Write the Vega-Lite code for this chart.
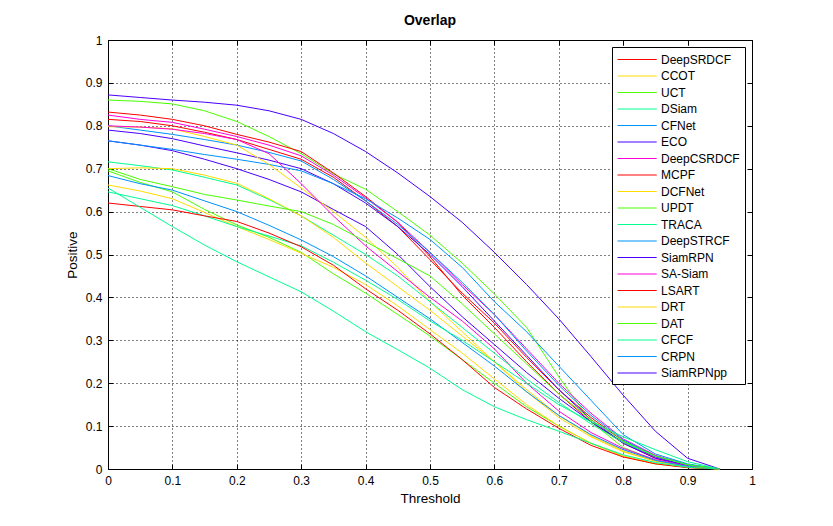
{
  "$schema": "https://vega.github.io/schema/vega-lite/v6.json",
  "width": 644,
  "height": 429,
  "autosize": "none",
  "padding": {"left": 108, "top": 40, "right": 81, "bottom": 57},
  "background": "white",
  "title": {
    "text": "Overlap",
    "font": "Liberation Sans",
    "fontSize": 14,
    "fontWeight": "bold",
    "color": "black",
    "offset": 6
  },
  "config": {
    "view": {"stroke": "black", "strokeWidth": 1},
    "axis": {
      "labelFont": "Liberation Sans",
      "labelFontSize": 12,
      "labelColor": "black",
      "labelFlush": false,
      "titleFont": "Liberation Sans",
      "titleFontSize": 13.5,
      "titleFontWeight": "normal",
      "titleColor": "black",
      "tickColor": "black",
      "tickSize": -5,
      "domain": false,
      "gridColor": "black",
      "gridDash": [1, 3],
      "gridOpacity": 1,
      "gridWidth": 1
    },
    "legend": {
      "orient": "top-right",
      "offset": 7,
      "fillColor": "white",
      "strokeColor": "black",
      "padding": 5,
      "symbolType": "M-2.8,0H2.8",
      "symbolSize": 196,
      "symbolStrokeWidth": 1,
      "symbolOffset": 12.6,
      "labelOffset": 16.4,
      "labelFont": "Liberation Sans",
      "labelFontSize": 12,
      "labelColor": "black",
      "labelLimit": 0,
      "rowPadding": 2.5
    }
  },
  "data": {
    "values": [
      {"tracker":"SiamRPNpp","threshold":0,"positive":0.872},{"tracker":"SiamRPNpp","threshold":0.05,"positive":0.866},{"tracker":"SiamRPNpp","threshold":0.1,"positive":0.86},{"tracker":"SiamRPNpp","threshold":0.15,"positive":0.855},{"tracker":"SiamRPNpp","threshold":0.2,"positive":0.848},{"tracker":"SiamRPNpp","threshold":0.25,"positive":0.835},{"tracker":"SiamRPNpp","threshold":0.3,"positive":0.815},{"tracker":"SiamRPNpp","threshold":0.35,"positive":0.782},{"tracker":"SiamRPNpp","threshold":0.4,"positive":0.74},{"tracker":"SiamRPNpp","threshold":0.45,"positive":0.69},{"tracker":"SiamRPNpp","threshold":0.5,"positive":0.635},{"tracker":"SiamRPNpp","threshold":0.55,"positive":0.575},{"tracker":"SiamRPNpp","threshold":0.6,"positive":0.505},{"tracker":"SiamRPNpp","threshold":0.65,"positive":0.43},{"tracker":"SiamRPNpp","threshold":0.7,"positive":0.35},{"tracker":"SiamRPNpp","threshold":0.75,"positive":0.262},{"tracker":"SiamRPNpp","threshold":0.8,"positive":0.172},{"tracker":"SiamRPNpp","threshold":0.85,"positive":0.088},{"tracker":"SiamRPNpp","threshold":0.9,"positive":0.025},{"tracker":"SiamRPNpp","threshold":0.95,"positive":0},
      {"tracker":"UPDT","threshold":0,"positive":0.86},{"tracker":"UPDT","threshold":0.05,"positive":0.857},{"tracker":"UPDT","threshold":0.1,"positive":0.851},{"tracker":"UPDT","threshold":0.15,"positive":0.835},{"tracker":"UPDT","threshold":0.2,"positive":0.81},{"tracker":"UPDT","threshold":0.25,"positive":0.775},{"tracker":"UPDT","threshold":0.3,"positive":0.735},{"tracker":"UPDT","threshold":0.35,"positive":0.688},{"tracker":"UPDT","threshold":0.4,"positive":0.652},{"tracker":"UPDT","threshold":0.45,"positive":0.6},{"tracker":"UPDT","threshold":0.5,"positive":0.545},{"tracker":"UPDT","threshold":0.55,"positive":0.48},{"tracker":"UPDT","threshold":0.6,"positive":0.408},{"tracker":"UPDT","threshold":0.65,"positive":0.33},{"tracker":"UPDT","threshold":0.7,"positive":0.215},{"tracker":"UPDT","threshold":0.75,"positive":0.11},{"tracker":"UPDT","threshold":0.8,"positive":0.05},{"tracker":"UPDT","threshold":0.85,"positive":0.02},{"tracker":"UPDT","threshold":0.9,"positive":0.006},{"tracker":"UPDT","threshold":0.95,"positive":0},
      {"tracker":"LSART","threshold":0,"positive":0.832},{"tracker":"LSART","threshold":0.05,"positive":0.825},{"tracker":"LSART","threshold":0.1,"positive":0.815},{"tracker":"LSART","threshold":0.15,"positive":0.8},{"tracker":"LSART","threshold":0.2,"positive":0.78},{"tracker":"LSART","threshold":0.25,"positive":0.762},{"tracker":"LSART","threshold":0.3,"positive":0.74},{"tracker":"LSART","threshold":0.35,"positive":0.69},{"tracker":"LSART","threshold":0.4,"positive":0.635},{"tracker":"LSART","threshold":0.45,"positive":0.575},{"tracker":"LSART","threshold":0.5,"positive":0.495},{"tracker":"LSART","threshold":0.55,"positive":0.405},{"tracker":"LSART","threshold":0.6,"positive":0.33},{"tracker":"LSART","threshold":0.65,"positive":0.25},{"tracker":"LSART","threshold":0.7,"positive":0.175},{"tracker":"LSART","threshold":0.75,"positive":0.11},{"tracker":"LSART","threshold":0.8,"positive":0.06},{"tracker":"LSART","threshold":0.85,"positive":0.025},{"tracker":"LSART","threshold":0.9,"positive":0.008},{"tracker":"LSART","threshold":0.95,"positive":0},
      {"tracker":"DeepSRDCF","threshold":0,"positive":0.815},{"tracker":"DeepSRDCF","threshold":0.05,"positive":0.81},{"tracker":"DeepSRDCF","threshold":0.1,"positive":0.8},{"tracker":"DeepSRDCF","threshold":0.15,"positive":0.785},{"tracker":"DeepSRDCF","threshold":0.2,"positive":0.768},{"tracker":"DeepSRDCF","threshold":0.25,"positive":0.745},{"tracker":"DeepSRDCF","threshold":0.3,"positive":0.722},{"tracker":"DeepSRDCF","threshold":0.35,"positive":0.68},{"tracker":"DeepSRDCF","threshold":0.4,"positive":0.625},{"tracker":"DeepSRDCF","threshold":0.45,"positive":0.565},{"tracker":"DeepSRDCF","threshold":0.5,"positive":0.488},{"tracker":"DeepSRDCF","threshold":0.55,"positive":0.41},{"tracker":"DeepSRDCF","threshold":0.6,"positive":0.34},{"tracker":"DeepSRDCF","threshold":0.65,"positive":0.26},{"tracker":"DeepSRDCF","threshold":0.7,"positive":0.185},{"tracker":"DeepSRDCF","threshold":0.75,"positive":0.12},{"tracker":"DeepSRDCF","threshold":0.8,"positive":0.065},{"tracker":"DeepSRDCF","threshold":0.85,"positive":0.03},{"tracker":"DeepSRDCF","threshold":0.9,"positive":0.01},{"tracker":"DeepSRDCF","threshold":0.95,"positive":0},
      {"tracker":"SA-Siam","threshold":0,"positive":0.825},{"tracker":"SA-Siam","threshold":0.05,"positive":0.815},{"tracker":"SA-Siam","threshold":0.1,"positive":0.808},{"tracker":"SA-Siam","threshold":0.15,"positive":0.792},{"tracker":"SA-Siam","threshold":0.2,"positive":0.775},{"tracker":"SA-Siam","threshold":0.25,"positive":0.755},{"tracker":"SA-Siam","threshold":0.3,"positive":0.73},{"tracker":"SA-Siam","threshold":0.35,"positive":0.685},{"tracker":"SA-Siam","threshold":0.4,"positive":0.632},{"tracker":"SA-Siam","threshold":0.45,"positive":0.575},{"tracker":"SA-Siam","threshold":0.5,"positive":0.505},{"tracker":"SA-Siam","threshold":0.55,"positive":0.43},{"tracker":"SA-Siam","threshold":0.6,"positive":0.36},{"tracker":"SA-Siam","threshold":0.65,"positive":0.28},{"tracker":"SA-Siam","threshold":0.7,"positive":0.2},{"tracker":"SA-Siam","threshold":0.75,"positive":0.13},{"tracker":"SA-Siam","threshold":0.8,"positive":0.07},{"tracker":"SA-Siam","threshold":0.85,"positive":0.032},{"tracker":"SA-Siam","threshold":0.9,"positive":0.01},{"tracker":"SA-Siam","threshold":0.95,"positive":0},
      {"tracker":"DeepSTRCF","threshold":0,"positive":0.8},{"tracker":"DeepSTRCF","threshold":0.05,"positive":0.79},{"tracker":"DeepSTRCF","threshold":0.1,"positive":0.78},{"tracker":"DeepSTRCF","threshold":0.15,"positive":0.768},{"tracker":"DeepSTRCF","threshold":0.2,"positive":0.755},{"tracker":"DeepSTRCF","threshold":0.25,"positive":0.738},{"tracker":"DeepSTRCF","threshold":0.3,"positive":0.718},{"tracker":"DeepSTRCF","threshold":0.35,"positive":0.675},{"tracker":"DeepSTRCF","threshold":0.4,"positive":0.625},{"tracker":"DeepSTRCF","threshold":0.45,"positive":0.57},{"tracker":"DeepSTRCF","threshold":0.5,"positive":0.505},{"tracker":"DeepSTRCF","threshold":0.55,"positive":0.435},{"tracker":"DeepSTRCF","threshold":0.6,"positive":0.36},{"tracker":"DeepSTRCF","threshold":0.65,"positive":0.275},{"tracker":"DeepSTRCF","threshold":0.7,"positive":0.195},{"tracker":"DeepSTRCF","threshold":0.75,"positive":0.125},{"tracker":"DeepSTRCF","threshold":0.8,"positive":0.068},{"tracker":"DeepSTRCF","threshold":0.85,"positive":0.03},{"tracker":"DeepSTRCF","threshold":0.9,"positive":0.01},{"tracker":"DeepSTRCF","threshold":0.95,"positive":0},
      {"tracker":"ECO","threshold":0,"positive":0.79},{"tracker":"ECO","threshold":0.05,"positive":0.782},{"tracker":"ECO","threshold":0.1,"positive":0.77},{"tracker":"ECO","threshold":0.15,"positive":0.753},{"tracker":"ECO","threshold":0.2,"positive":0.737},{"tracker":"ECO","threshold":0.25,"positive":0.72},{"tracker":"ECO","threshold":0.3,"positive":0.7},{"tracker":"ECO","threshold":0.35,"positive":0.665},{"tracker":"ECO","threshold":0.4,"positive":0.62},{"tracker":"ECO","threshold":0.45,"positive":0.565},{"tracker":"ECO","threshold":0.5,"positive":0.5},{"tracker":"ECO","threshold":0.55,"positive":0.425},{"tracker":"ECO","threshold":0.6,"positive":0.345},{"tracker":"ECO","threshold":0.65,"positive":0.265},{"tracker":"ECO","threshold":0.7,"positive":0.185},{"tracker":"ECO","threshold":0.75,"positive":0.115},{"tracker":"ECO","threshold":0.8,"positive":0.06},{"tracker":"ECO","threshold":0.85,"positive":0.025},{"tracker":"ECO","threshold":0.9,"positive":0.008},{"tracker":"ECO","threshold":0.95,"positive":0},
      {"tracker":"SiamRPN","threshold":0,"positive":0.765},{"tracker":"SiamRPN","threshold":0.05,"positive":0.755},{"tracker":"SiamRPN","threshold":0.1,"positive":0.742},{"tracker":"SiamRPN","threshold":0.15,"positive":0.722},{"tracker":"SiamRPN","threshold":0.2,"positive":0.7},{"tracker":"SiamRPN","threshold":0.25,"positive":0.675},{"tracker":"SiamRPN","threshold":0.3,"positive":0.646},{"tracker":"SiamRPN","threshold":0.35,"positive":0.605},{"tracker":"SiamRPN","threshold":0.4,"positive":0.565},{"tracker":"SiamRPN","threshold":0.45,"positive":0.5},{"tracker":"SiamRPN","threshold":0.5,"positive":0.425},{"tracker":"SiamRPN","threshold":0.55,"positive":0.355},{"tracker":"SiamRPN","threshold":0.6,"positive":0.29},{"tracker":"SiamRPN","threshold":0.65,"positive":0.225},{"tracker":"SiamRPN","threshold":0.7,"positive":0.165},{"tracker":"SiamRPN","threshold":0.75,"positive":0.11},{"tracker":"SiamRPN","threshold":0.8,"positive":0.062},{"tracker":"SiamRPN","threshold":0.85,"positive":0.028},{"tracker":"SiamRPN","threshold":0.9,"positive":0.008},{"tracker":"SiamRPN","threshold":0.95,"positive":0},
      {"tracker":"CRPN","threshold":0,"positive":0.765},{"tracker":"CRPN","threshold":0.05,"positive":0.755},{"tracker":"CRPN","threshold":0.1,"positive":0.745},{"tracker":"CRPN","threshold":0.15,"positive":0.733},{"tracker":"CRPN","threshold":0.2,"positive":0.722},{"tracker":"CRPN","threshold":0.25,"positive":0.71},{"tracker":"CRPN","threshold":0.3,"positive":0.695},{"tracker":"CRPN","threshold":0.35,"positive":0.665},{"tracker":"CRPN","threshold":0.4,"positive":0.63},{"tracker":"CRPN","threshold":0.45,"positive":0.585},{"tracker":"CRPN","threshold":0.5,"positive":0.535},{"tracker":"CRPN","threshold":0.55,"positive":0.47},{"tracker":"CRPN","threshold":0.6,"positive":0.39},{"tracker":"CRPN","threshold":0.65,"positive":0.32},{"tracker":"CRPN","threshold":0.7,"positive":0.24},{"tracker":"CRPN","threshold":0.75,"positive":0.16},{"tracker":"CRPN","threshold":0.8,"positive":0.08},{"tracker":"CRPN","threshold":0.85,"positive":0.035},{"tracker":"CRPN","threshold":0.9,"positive":0.012},{"tracker":"CRPN","threshold":0.95,"positive":0},
      {"tracker":"CCOT","threshold":0,"positive":0.798},{"tracker":"CCOT","threshold":0.05,"positive":0.797},{"tracker":"CCOT","threshold":0.1,"positive":0.793},{"tracker":"CCOT","threshold":0.15,"positive":0.775},{"tracker":"CCOT","threshold":0.2,"positive":0.755},{"tracker":"CCOT","threshold":0.25,"positive":0.71},{"tracker":"CCOT","threshold":0.3,"positive":0.655},{"tracker":"CCOT","threshold":0.35,"positive":0.6},{"tracker":"CCOT","threshold":0.4,"positive":0.54},{"tracker":"CCOT","threshold":0.45,"positive":0.47},{"tracker":"CCOT","threshold":0.5,"positive":0.39},{"tracker":"CCOT","threshold":0.55,"positive":0.32},{"tracker":"CCOT","threshold":0.6,"positive":0.25},{"tracker":"CCOT","threshold":0.65,"positive":0.18},{"tracker":"CCOT","threshold":0.7,"positive":0.12},{"tracker":"CCOT","threshold":0.75,"positive":0.075},{"tracker":"CCOT","threshold":0.8,"positive":0.04},{"tracker":"CCOT","threshold":0.85,"positive":0.018},{"tracker":"CCOT","threshold":0.9,"positive":0.005},{"tracker":"CCOT","threshold":0.95,"positive":0},
      {"tracker":"DeepCSRDCF","threshold":0,"positive":0.8},{"tracker":"DeepCSRDCF","threshold":0.05,"positive":0.797},{"tracker":"DeepCSRDCF","threshold":0.1,"positive":0.792},{"tracker":"DeepCSRDCF","threshold":0.15,"positive":0.782},{"tracker":"DeepCSRDCF","threshold":0.2,"positive":0.768},{"tracker":"DeepCSRDCF","threshold":0.25,"positive":0.735},{"tracker":"DeepCSRDCF","threshold":0.3,"positive":0.665},{"tracker":"DeepCSRDCF","threshold":0.35,"positive":0.59},{"tracker":"DeepCSRDCF","threshold":0.4,"positive":0.52},{"tracker":"DeepCSRDCF","threshold":0.45,"positive":0.46},{"tracker":"DeepCSRDCF","threshold":0.5,"positive":0.4},{"tracker":"DeepCSRDCF","threshold":0.55,"positive":0.345},{"tracker":"DeepCSRDCF","threshold":0.6,"positive":0.28},{"tracker":"DeepCSRDCF","threshold":0.65,"positive":0.2},{"tracker":"DeepCSRDCF","threshold":0.7,"positive":0.135},{"tracker":"DeepCSRDCF","threshold":0.75,"positive":0.085},{"tracker":"DeepCSRDCF","threshold":0.8,"positive":0.048},{"tracker":"DeepCSRDCF","threshold":0.85,"positive":0.022},{"tracker":"DeepCSRDCF","threshold":0.9,"positive":0.007},{"tracker":"DeepCSRDCF","threshold":0.95,"positive":0},
      {"tracker":"DSiam","threshold":0,"positive":0.716},{"tracker":"DSiam","threshold":0.05,"positive":0.707},{"tracker":"DSiam","threshold":0.1,"positive":0.697},{"tracker":"DSiam","threshold":0.15,"positive":0.68},{"tracker":"DSiam","threshold":0.2,"positive":0.662},{"tracker":"DSiam","threshold":0.25,"positive":0.628},{"tracker":"DSiam","threshold":0.3,"positive":0.59},{"tracker":"DSiam","threshold":0.35,"positive":0.545},{"tracker":"DSiam","threshold":0.4,"positive":0.5},{"tracker":"DSiam","threshold":0.45,"positive":0.45},{"tracker":"DSiam","threshold":0.5,"positive":0.39},{"tracker":"DSiam","threshold":0.55,"positive":0.33},{"tracker":"DSiam","threshold":0.6,"positive":0.27},{"tracker":"DSiam","threshold":0.65,"positive":0.21},{"tracker":"DSiam","threshold":0.7,"positive":0.155},{"tracker":"DSiam","threshold":0.75,"positive":0.105},{"tracker":"DSiam","threshold":0.8,"positive":0.062},{"tracker":"DSiam","threshold":0.85,"positive":0.03},{"tracker":"DSiam","threshold":0.9,"positive":0.01},{"tracker":"DSiam","threshold":0.95,"positive":0},
      {"tracker":"DRT","threshold":0,"positive":0.7},{"tracker":"DRT","threshold":0.05,"positive":0.702},{"tracker":"DRT","threshold":0.1,"positive":0.7},{"tracker":"DRT","threshold":0.15,"positive":0.685},{"tracker":"DRT","threshold":0.2,"positive":0.666},{"tracker":"DRT","threshold":0.25,"positive":0.63},{"tracker":"DRT","threshold":0.3,"positive":0.59},{"tracker":"DRT","threshold":0.35,"positive":0.54},{"tracker":"DRT","threshold":0.4,"positive":0.48},{"tracker":"DRT","threshold":0.45,"positive":0.425},{"tracker":"DRT","threshold":0.5,"positive":0.37},{"tracker":"DRT","threshold":0.55,"positive":0.31},{"tracker":"DRT","threshold":0.6,"positive":0.25},{"tracker":"DRT","threshold":0.65,"positive":0.185},{"tracker":"DRT","threshold":0.7,"positive":0.125},{"tracker":"DRT","threshold":0.75,"positive":0.078},{"tracker":"DRT","threshold":0.8,"positive":0.042},{"tracker":"DRT","threshold":0.85,"positive":0.018},{"tracker":"DRT","threshold":0.9,"positive":0.005},{"tracker":"DRT","threshold":0.95,"positive":0},
      {"tracker":"DAT","threshold":0,"positive":0.7},{"tracker":"DAT","threshold":0.05,"positive":0.675},{"tracker":"DAT","threshold":0.1,"positive":0.658},{"tracker":"DAT","threshold":0.15,"positive":0.64},{"tracker":"DAT","threshold":0.2,"positive":0.627},{"tracker":"DAT","threshold":0.25,"positive":0.613},{"tracker":"DAT","threshold":0.3,"positive":0.6},{"tracker":"DAT","threshold":0.35,"positive":0.57},{"tracker":"DAT","threshold":0.4,"positive":0.53},{"tracker":"DAT","threshold":0.45,"positive":0.49},{"tracker":"DAT","threshold":0.5,"positive":0.45},{"tracker":"DAT","threshold":0.55,"positive":0.385},{"tracker":"DAT","threshold":0.6,"positive":0.315},{"tracker":"DAT","threshold":0.65,"positive":0.245},{"tracker":"DAT","threshold":0.7,"positive":0.175},{"tracker":"DAT","threshold":0.75,"positive":0.115},{"tracker":"DAT","threshold":0.8,"positive":0.065},{"tracker":"DAT","threshold":0.85,"positive":0.03},{"tracker":"DAT","threshold":0.9,"positive":0.01},{"tracker":"DAT","threshold":0.95,"positive":0},
      {"tracker":"UCT","threshold":0,"positive":0.695},{"tracker":"UCT","threshold":0.05,"positive":0.668},{"tracker":"UCT","threshold":0.1,"positive":0.646},{"tracker":"UCT","threshold":0.15,"positive":0.605},{"tracker":"UCT","threshold":0.2,"positive":0.569},{"tracker":"UCT","threshold":0.25,"positive":0.54},{"tracker":"UCT","threshold":0.3,"positive":0.505},{"tracker":"UCT","threshold":0.35,"positive":0.455},{"tracker":"UCT","threshold":0.4,"positive":0.41},{"tracker":"UCT","threshold":0.45,"positive":0.36},{"tracker":"UCT","threshold":0.5,"positive":0.31},{"tracker":"UCT","threshold":0.55,"positive":0.255},{"tracker":"UCT","threshold":0.6,"positive":0.2},{"tracker":"UCT","threshold":0.65,"positive":0.145},{"tracker":"UCT","threshold":0.7,"positive":0.1},{"tracker":"UCT","threshold":0.75,"positive":0.06},{"tracker":"UCT","threshold":0.8,"positive":0.03},{"tracker":"UCT","threshold":0.85,"positive":0.012},{"tracker":"UCT","threshold":0.9,"positive":0.004},{"tracker":"UCT","threshold":0.95,"positive":0},
      {"tracker":"CFNet","threshold":0,"positive":0.684},{"tracker":"CFNet","threshold":0.05,"positive":0.665},{"tracker":"CFNet","threshold":0.1,"positive":0.65},{"tracker":"CFNet","threshold":0.15,"positive":0.625},{"tracker":"CFNet","threshold":0.2,"positive":0.6},{"tracker":"CFNet","threshold":0.25,"positive":0.568},{"tracker":"CFNet","threshold":0.3,"positive":0.534},{"tracker":"CFNet","threshold":0.35,"positive":0.495},{"tracker":"CFNet","threshold":0.4,"positive":0.45},{"tracker":"CFNet","threshold":0.45,"positive":0.4},{"tracker":"CFNet","threshold":0.5,"positive":0.35},{"tracker":"CFNet","threshold":0.55,"positive":0.295},{"tracker":"CFNet","threshold":0.6,"positive":0.24},{"tracker":"CFNet","threshold":0.65,"positive":0.18},{"tracker":"CFNet","threshold":0.7,"positive":0.125},{"tracker":"CFNet","threshold":0.75,"positive":0.08},{"tracker":"CFNet","threshold":0.8,"positive":0.045},{"tracker":"CFNet","threshold":0.85,"positive":0.02},{"tracker":"CFNet","threshold":0.9,"positive":0.006},{"tracker":"CFNet","threshold":0.95,"positive":0},
      {"tracker":"DCFNet","threshold":0,"positive":0.662},{"tracker":"DCFNet","threshold":0.05,"positive":0.648},{"tracker":"DCFNet","threshold":0.1,"positive":0.63},{"tracker":"DCFNet","threshold":0.15,"positive":0.598},{"tracker":"DCFNet","threshold":0.2,"positive":0.565},{"tracker":"DCFNet","threshold":0.25,"positive":0.535},{"tracker":"DCFNet","threshold":0.3,"positive":0.503},{"tracker":"DCFNet","threshold":0.35,"positive":0.47},{"tracker":"DCFNet","threshold":0.4,"positive":0.43},{"tracker":"DCFNet","threshold":0.45,"positive":0.38},{"tracker":"DCFNet","threshold":0.5,"positive":0.325},{"tracker":"DCFNet","threshold":0.55,"positive":0.27},{"tracker":"DCFNet","threshold":0.6,"positive":0.21},{"tracker":"DCFNet","threshold":0.65,"positive":0.15},{"tracker":"DCFNet","threshold":0.7,"positive":0.1},{"tracker":"DCFNet","threshold":0.75,"positive":0.06},{"tracker":"DCFNet","threshold":0.8,"positive":0.03},{"tracker":"DCFNet","threshold":0.85,"positive":0.012},{"tracker":"DCFNet","threshold":0.9,"positive":0.004},{"tracker":"DCFNet","threshold":0.95,"positive":0},
      {"tracker":"CFCF","threshold":0,"positive":0.646},{"tracker":"CFCF","threshold":0.05,"positive":0.63},{"tracker":"CFCF","threshold":0.1,"positive":0.614},{"tracker":"CFCF","threshold":0.15,"positive":0.59},{"tracker":"CFCF","threshold":0.2,"positive":0.565},{"tracker":"CFCF","threshold":0.25,"positive":0.543},{"tracker":"CFCF","threshold":0.3,"positive":0.52},{"tracker":"CFCF","threshold":0.35,"positive":0.482},{"tracker":"CFCF","threshold":0.4,"positive":0.44},{"tracker":"CFCF","threshold":0.45,"positive":0.395},{"tracker":"CFCF","threshold":0.5,"positive":0.345},{"tracker":"CFCF","threshold":0.55,"positive":0.3},{"tracker":"CFCF","threshold":0.6,"positive":0.25},{"tracker":"CFCF","threshold":0.65,"positive":0.2},{"tracker":"CFCF","threshold":0.7,"positive":0.15},{"tracker":"CFCF","threshold":0.75,"positive":0.11},{"tracker":"CFCF","threshold":0.8,"positive":0.075},{"tracker":"CFCF","threshold":0.85,"positive":0.045},{"tracker":"CFCF","threshold":0.9,"positive":0.017},{"tracker":"CFCF","threshold":0.95,"positive":0},
      {"tracker":"MCPF","threshold":0,"positive":0.62},{"tracker":"MCPF","threshold":0.05,"positive":0.612},{"tracker":"MCPF","threshold":0.1,"positive":0.604},{"tracker":"MCPF","threshold":0.15,"positive":0.59},{"tracker":"MCPF","threshold":0.2,"positive":0.577},{"tracker":"MCPF","threshold":0.25,"positive":0.55},{"tracker":"MCPF","threshold":0.3,"positive":0.518},{"tracker":"MCPF","threshold":0.35,"positive":0.475},{"tracker":"MCPF","threshold":0.4,"positive":0.42},{"tracker":"MCPF","threshold":0.45,"positive":0.37},{"tracker":"MCPF","threshold":0.5,"positive":0.315},{"tracker":"MCPF","threshold":0.55,"positive":0.255},{"tracker":"MCPF","threshold":0.6,"positive":0.19},{"tracker":"MCPF","threshold":0.65,"positive":0.14},{"tracker":"MCPF","threshold":0.7,"positive":0.095},{"tracker":"MCPF","threshold":0.75,"positive":0.055},{"tracker":"MCPF","threshold":0.8,"positive":0.028},{"tracker":"MCPF","threshold":0.85,"positive":0.012},{"tracker":"MCPF","threshold":0.9,"positive":0.003},{"tracker":"MCPF","threshold":0.95,"positive":0},
      {"tracker":"TRACA","threshold":0,"positive":0.655},{"tracker":"TRACA","threshold":0.05,"positive":0.61},{"tracker":"TRACA","threshold":0.1,"positive":0.565},{"tracker":"TRACA","threshold":0.15,"positive":0.522},{"tracker":"TRACA","threshold":0.2,"positive":0.483},{"tracker":"TRACA","threshold":0.25,"positive":0.448},{"tracker":"TRACA","threshold":0.3,"positive":0.413},{"tracker":"TRACA","threshold":0.35,"positive":0.368},{"tracker":"TRACA","threshold":0.4,"positive":0.32},{"tracker":"TRACA","threshold":0.45,"positive":0.278},{"tracker":"TRACA","threshold":0.5,"positive":0.235},{"tracker":"TRACA","threshold":0.55,"positive":0.185},{"tracker":"TRACA","threshold":0.6,"positive":0.145},{"tracker":"TRACA","threshold":0.65,"positive":0.115},{"tracker":"TRACA","threshold":0.7,"positive":0.088},{"tracker":"TRACA","threshold":0.75,"positive":0.06},{"tracker":"TRACA","threshold":0.8,"positive":0.033},{"tracker":"TRACA","threshold":0.85,"positive":0.015},{"tracker":"TRACA","threshold":0.9,"positive":0.004},{"tracker":"TRACA","threshold":0.95,"positive":0}
    ]
  },
  "layer": [
    {
      "mark": {"type": "line", "strokeWidth": 1},
      "encoding": {
        "x": {
          "field": "threshold",
          "type": "quantitative",
          "scale": {"domain": [0, 1], "nice": false},
          "axis": {
            "title": "Threshold",
            "values": [0, 0.1, 0.2, 0.3, 0.4, 0.5, 0.6, 0.7, 0.8, 0.9, 1],
            "format": "~g",
            "grid": true,
            "labelPadding": 11,
            "titlePadding": 5
          }
        },
        "y": {
          "field": "positive",
          "type": "quantitative",
          "scale": {"domain": [0, 1], "nice": false},
          "axis": {
            "title": "Positive",
            "values": [0, 0.1, 0.2, 0.3, 0.4, 0.5, 0.6, 0.7, 0.8, 0.9, 1],
            "format": "~g",
            "grid": true,
            "labelPadding": 11,
            "titlePadding": 6
          }
        },
        "color": {
          "field": "tracker",
          "type": "nominal",
          "scale": {
            "domain": ["DeepSRDCF", "CCOT", "UCT", "DSiam", "CFNet", "ECO", "DeepCSRDCF", "MCPF", "DCFNet", "UPDT", "TRACA", "DeepSTRCF", "SiamRPN", "SA-Siam", "LSART", "DRT", "DAT", "CFCF", "CRPN", "SiamRPNpp"],
            "range": ["#FF0000", "#FFDB00", "#49FF00", "#00FF92", "#0092FF", "#4900FF", "#FF00DB", "#FF0000", "#FFDB00", "#49FF00", "#00FF92", "#0092FF", "#4900FF", "#FF00DB", "#FF0000", "#FFDB00", "#49FF00", "#00FF92", "#0092FF", "#4900FF"]
          },
          "legend": {"title": null}
        }
      }
    },
    {
      "mark": {"type": "point", "opacity": 0},
      "encoding": {
        "x": {
          "field": "threshold",
          "type": "quantitative",
          "axis": {
            "orient": "top",
            "title": null,
            "labels": false,
            "grid": false,
            "values": [0, 0.1, 0.2, 0.3, 0.4, 0.5, 0.6, 0.7, 0.8, 0.9, 1]
          }
        },
        "y": {
          "field": "positive",
          "type": "quantitative",
          "axis": {
            "orient": "right",
            "title": null,
            "labels": false,
            "grid": false,
            "values": [0, 0.1, 0.2, 0.3, 0.4, 0.5, 0.6, 0.7, 0.8, 0.9, 1]
          }
        }
      }
    }
  ],
  "resolve": {"axis": {"x": "independent", "y": "independent"}}
}
